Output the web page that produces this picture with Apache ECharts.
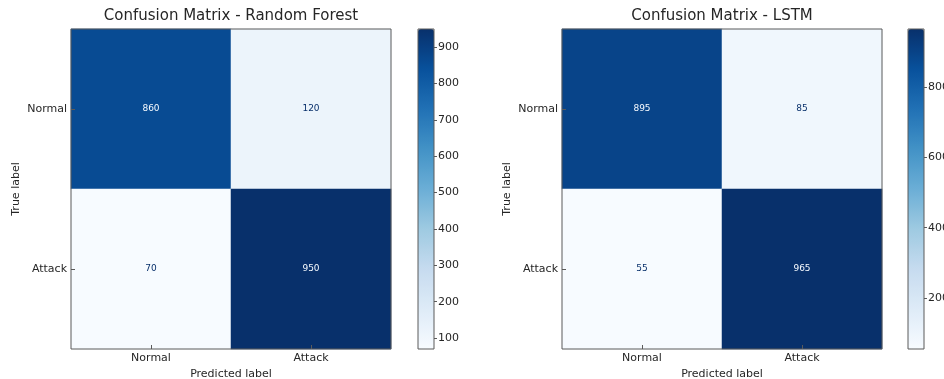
<!DOCTYPE html>
<html>
<head>
<meta charset="utf-8">
<script src="https://cdn.jsdelivr.net/npm/echarts@6/dist/echarts.min.js"></script>
<style>
  html, body { margin: 0; padding: 0; background: #fff; }
  #chart { width: 944px; height: 379px; }
</style>
</head>
<body>
<div id="chart"></div>
<script>
  const labels = ['Normal', 'Attack'];
  const titles = ['Confusion Matrix - Random Forest', 'Confusion Matrix - LSTM'];
  // rows = true label, cols = predicted label
  const rfMatrix = [[860, 120], [70, 950]];
  const lstmMatrix = [[895, 85], [55, 965]];
  const rfBarTicks = [100, 200, 300, 400, 500, 600, 700, 800, 900];
  const lstmBarTicks = [200, 400, 600, 800];

  const blues = ['#f7fbff', '#deebf7', '#c6dbef', '#9ecae1', '#6baed6', '#4292c6', '#2171b5', '#08519c', '#08306b'];
  const font = 'DejaVu Sans';
  const textColor = '#262626';
  const frameColor = '#5a5a5a';

  const panels = [
    {matrix: rfMatrix, ticks: rfBarTicks, plotLeft: 71, barLeft: 418},
    {matrix: lstmMatrix, ticks: lstmBarTicks, plotLeft: 562, barLeft: 908}
  ];
  const plotTop = 29;
  const plotW = 320;
  const plotH = 320;
  const barW = 16;

  function flat(m) {
    return [].concat(...m);
  }

  const option = {
    backgroundColor: '#ffffff',
    animation: false,
    textStyle: {fontFamily: font},
    title: [],
    grid: [],
    xAxis: [],
    yAxis: [],
    visualMap: [],
    series: []
  };

  panels.forEach((p, i) => {
    const vals = flat(p.matrix);
    const min = Math.min(...vals);
    const max = Math.max(...vals);
    const mid = (min + max) / 2;
    const data = [];
    p.matrix.forEach((row, r) => {
      row.forEach((v, c) => {
        data.push({
          value: [c, r, v],
          label: {color: v > mid ? blues[0] : blues[8]}
        });
      });
    });

    option.title.push({
      text: titles[i],
      left: p.plotLeft + plotW / 2,
      top: 9,
      padding: 0,
      textAlign: 'center',
      textStyle: {fontFamily: font, fontSize: 15, fontWeight: 'normal', color: textColor}
    });

    // heatmap grid
    option.grid.push({
      left: p.plotLeft, top: plotTop, width: plotW, height: plotH,
      outerBoundsMode: 'none', containLabel: false,
      show: true, borderColor: frameColor, borderWidth: 1, backgroundColor: 'transparent', z: 10
    });
    // colorbar grid
    option.grid.push({
      left: p.barLeft, top: plotTop, width: barW, height: plotH,
      outerBoundsMode: 'none', containLabel: false,
      show: true, borderColor: frameColor, borderWidth: 1, backgroundColor: 'transparent', z: 10
    });

    option.xAxis.push({
      type: 'category',
      gridIndex: i * 2,
      data: labels,
      z: 10,
      name: 'Predicted label',
      nameLocation: 'middle',
      nameGap: 16,
      nameTextStyle: {fontFamily: font, fontSize: 11, color: textColor},
      axisLine: {show: false},
      axisTick: {show: true, inside: true, length: 4, alignWithLabel: true, lineStyle: {color: frameColor}},
      axisLabel: {fontFamily: font, fontSize: 11, color: textColor, margin: 4},
      splitLine: {show: false}
    });
    option.xAxis.push({
      type: 'value',
      gridIndex: i * 2 + 1,
      show: false
    });

    option.yAxis.push({
      type: 'category',
      gridIndex: i * 2,
      data: labels,
      inverse: true,
      z: 10,
      name: 'True label',
      nameLocation: 'middle',
      nameGap: 49,
      nameTextStyle: {fontFamily: font, fontSize: 11, color: textColor},
      axisLine: {show: false},
      axisTick: {show: true, inside: true, length: 4, alignWithLabel: true, lineStyle: {color: frameColor}},
      axisLabel: {fontFamily: font, fontSize: 11, color: textColor, margin: 4},
      splitLine: {show: false}
    });
    option.yAxis.push({
      type: 'value',
      gridIndex: i * 2 + 1,
      position: 'right',
      min: min,
      max: max,
      z: 10,
      axisLine: {show: false, onZero: false},
      axisTick: {show: true, inside: false, length: 3, customValues: p.ticks, lineStyle: {color: frameColor}},
      axisLabel: {fontFamily: font, fontSize: 11, color: textColor, margin: 4, customValues: p.ticks},
      splitLine: {show: false}
    });

    option.visualMap.push({
      type: 'continuous',
      seriesIndex: i,
      min: min,
      max: max,
      orient: 'vertical',
      left: p.barLeft,
      top: plotTop,
      itemWidth: barW,
      itemHeight: plotH,
      padding: 0,
      calculable: false,
      hoverLink: false,
      text: null,
      inRange: {color: blues}
    });

    option.series.push({
      type: 'heatmap',
      xAxisIndex: i * 2,
      yAxisIndex: i * 2,
      data: data,
      itemStyle: {borderWidth: 0},
      label: {show: true, fontFamily: font, fontSize: 9, formatter: (d) => d.value[2]},
      emphasis: {disabled: true}
    });
  });

  const chart = echarts.init(document.getElementById('chart'), null, {renderer: 'canvas'});
  chart.setOption(option);
</script>
</body>
</html>
